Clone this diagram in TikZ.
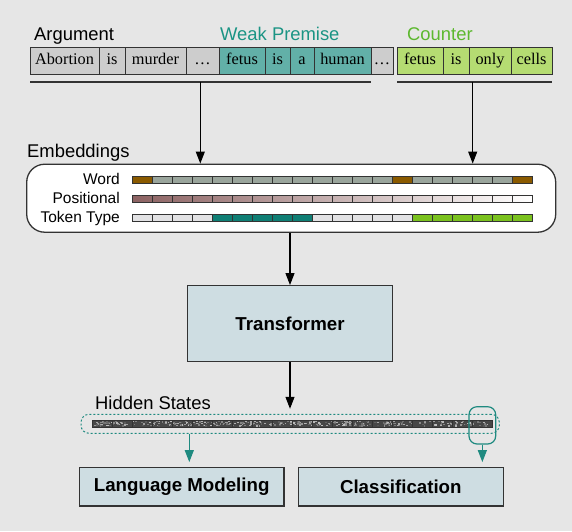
\documentclass[tikz,border=0pt]{standalone}
\usepackage{fontspec}
\setmainfont{Liberation Serif}
\setsansfont{Liberation Sans}
\usetikzlibrary{arrows.meta}
\definecolor{bg}{HTML}{E6E6E6}
\definecolor{linec}{HTML}{333333}
\definecolor{tokgray}{HTML}{CDCDCD}
\definecolor{tokteal}{HTML}{62B0A8}
\definecolor{tokgreen}{HTML}{B5DC72}
\definecolor{weakteal}{HTML}{1A9484}
\definecolor{countergreen}{HTML}{5CB82E}
\definecolor{wordgray}{HTML}{9AA59C}
\definecolor{wbrown}{HTML}{8A5A00}
\definecolor{ttteal}{HTML}{0F7F75}
\definecolor{ttgreen}{HTML}{7BC21F}
\definecolor{ttlight}{HTML}{E2E2E4}
\definecolor{mauve}{HTML}{8C6262}
\definecolor{boxfill}{HTML}{CEDDE2}
\definecolor{selteal}{HTML}{1F8A80}
\begin{document}
\begin{tikzpicture}[x=1pt,y=-1pt,
  tok/.style={draw=linec, line width=0.9pt, minimum height=27pt, inner sep=0pt, text height=10.8pt, text depth=3pt, font=\fontsize{16.3}{17}\selectfont\rmfamily},
  ecell/.style={draw=linec, line width=0.8pt, minimum width=20pt, minimum height=7pt, inner sep=0pt},
  arr/.style={-{Triangle[length=12pt,width=9pt]}, line width=1.1pt, draw=black},
  tarr/.style={-{Triangle[length=12pt,width=9pt]}, line width=1.1pt, draw=selteal, fill=selteal},
  box/.style={draw=linec, line width=1.3pt, fill=boxfill, inner sep=0pt, font=\fontsize{18.7}{21}\selectfont\sffamily\bfseries},
  lab/.style={inner sep=0pt, font=\fontsize{18.4}{21}\selectfont\sffamily},
  elab/.style={inner sep=0pt, font=\fontsize{15.5}{18}\selectfont\sffamily},
  uline/.style={line width=1.4pt, draw=linec}]
\fill[bg] (0,0) rectangle (572,531);
\useasboundingbox (0,0) rectangle (572,531);

% labels top
\node[lab, anchor=base west] (argl) at (34,40) {Argument};
\node[lab, anchor=base west, text=weakteal] (weakl) at (220,40) {Weak Premise};
\node[lab, anchor=base west, text=countergreen] (countl) at (407,40) {Counter};

% tokens
\node[tok, fill=tokgray, minimum width=69pt] (t1) at (64.5,60.8) {Abortion};
\node[tok, fill=tokgray, minimum width=26pt] (t2) at (112,60.8) {is};
\node[tok, fill=tokgray, minimum width=61pt] (t3) at (155.5,60.8) {murder};
\node[tok, fill=tokgray, minimum width=33pt] (t4) at (202.5,60.8) {\ldots};
\node[tok, fill=tokteal, minimum width=46pt] (t5) at (242,60.8) {fetus};
\node[tok, fill=tokteal, minimum width=25pt] (t6) at (277.5,60.8) {is};
\node[tok, fill=tokteal, minimum width=24pt] (t7) at (302,60.8) {a};
\node[tok, fill=tokteal, minimum width=57pt] (t8) at (342.5,60.8) {human};
\node[tok, fill=tokgray, minimum width=22pt] (t9) at (382,60.8) {\ldots};
\node[tok, fill=tokgreen, minimum width=46pt] (c1) at (420,60.8) {fetus};
\node[tok, fill=tokgreen, minimum width=26pt] (c2) at (456,60.8) {is};
\node[tok, fill=tokgreen, minimum width=42pt] (c3) at (490,60.8) {only};
\node[tok, fill=tokgreen, minimum width=41pt] (c4) at (531.5,60.8) {cells};

% underlines
\coordinate (ulA) at (30,82);
\coordinate (ulB) at (371,82);
\coordinate (ulC) at (397,82);
\coordinate (ulD) at (552,82);
\coordinate (aL) at (200.3,82);
\coordinate (aR) at (472.7,82);
\draw[uline] (ulA) -- (ulB);
\draw[uline] (ulC) -- (ulD);

% embeddings
\node[lab, anchor=base west] (embl) at (27,157) {Embeddings};
\node[draw=linec, line width=1.3pt, fill=white, rounded corners=18pt, minimum width=529pt, minimum height=68pt, inner sep=0pt] (emb) at (291.2,198.2) {};
\draw[arr] (aL) -- (emb.north -| aL);
\draw[arr] (aR) -- (emb.north -| aR);

\node[elab, anchor=base east] (wl) at (120,184.5) {Word};
\node[elab, anchor=base east] (pl) at (120,203) {Positional};
\node[elab, anchor=base east] (ttl) at (120,222) {Token Type};

\foreach \i/\c in {0/wbrown,1/wordgray,2/wordgray,3/wordgray,4/wordgray,5/wordgray,6/wordgray,7/wordgray,8/wordgray,9/wordgray,10/wordgray,11/wordgray,12/wordgray,13/wbrown,14/wordgray,15/wordgray,16/wordgray,17/wordgray,18/wordgray,19/wbrown}
  \node[ecell, fill=\c] (w\i) at (142+20*\i,180.2) {};
\shade[left color=mauve, right color=white] (132,195.2) rectangle (532,202.2);
\foreach \i in {0,...,19}
  \node[ecell] (p\i) at (142+20*\i,198.7) {};
\foreach \i/\c in {0/ttlight,1/ttlight,2/ttlight,3/ttlight,4/ttteal,5/ttteal,6/ttteal,7/ttteal,8/ttteal,9/ttlight,10/ttlight,11/ttlight,12/ttlight,13/ttlight,14/ttgreen,15/ttgreen,16/ttgreen,17/ttgreen,18/ttgreen,19/ttgreen}
  \node[ecell, fill=\c] (tt\i) at (142+20*\i,217.7) {};

% transformer
\node[box, minimum width=204.6pt, minimum height=76pt] (tr) at (290,323.7) {Transformer};
\draw[arr] (emb.south -| tr) -- (tr.north);

% hidden states
\node[lab, anchor=base west] (hsl) at (95,409) {Hidden States};
\foreach \i in {0,...,19}
  \node[ecell, fill=black!72] (h\i) at (102.7+20*\i,423.7) {};
\pgfmathsetseed{11}
\foreach \k in {1,...,420}{
  \pgfmathsetmacro\rx{93.5+396*rnd}
  \pgfmathsetmacro\ry{420.8+4.6*rnd}
  \pgfmathsetmacro\gg{int(25+45*rnd)}
  \fill[black!\gg] (\rx,\ry) rectangle ++(1.8,1.3);
}
\foreach \i in {0,...,19}
  \node[ecell] (hb\i) at (102.7+20*\i,423.7) {};
\node[draw=selteal, dash pattern=on 2pt off 2pt, line width=1pt, rounded corners=8pt, minimum width=418.3pt, minimum height=19pt, inner sep=0pt] (hsbox) at (290.15,423.8) {};
\node[draw=selteal, line width=1.2pt, rounded corners=8pt, minimum width=26.7pt, minimum height=37.3pt, inner sep=0pt] (sel) at (482.35,425.35) {};
\draw[arr, shorten >=5pt] (tr.south) -- (hsbox.north -| tr);

% heads
\node[box, minimum width=204.7pt, minimum height=38.3pt] (lm) at (181.7,486.9) {Language Modeling};
\node[box, minimum width=205pt, minimum height=38.3pt] (cls) at (400.8,486.9) {Classification};
\coordinate (lmx) at (189.3,0);
\draw[tarr, shorten >=5pt] (hsbox.south -| lmx) -- (lm.north -| lmx);
\draw[tarr, shorten >=5pt] (sel.south) -- (cls.north -| sel);
\end{tikzpicture}
\end{document}
